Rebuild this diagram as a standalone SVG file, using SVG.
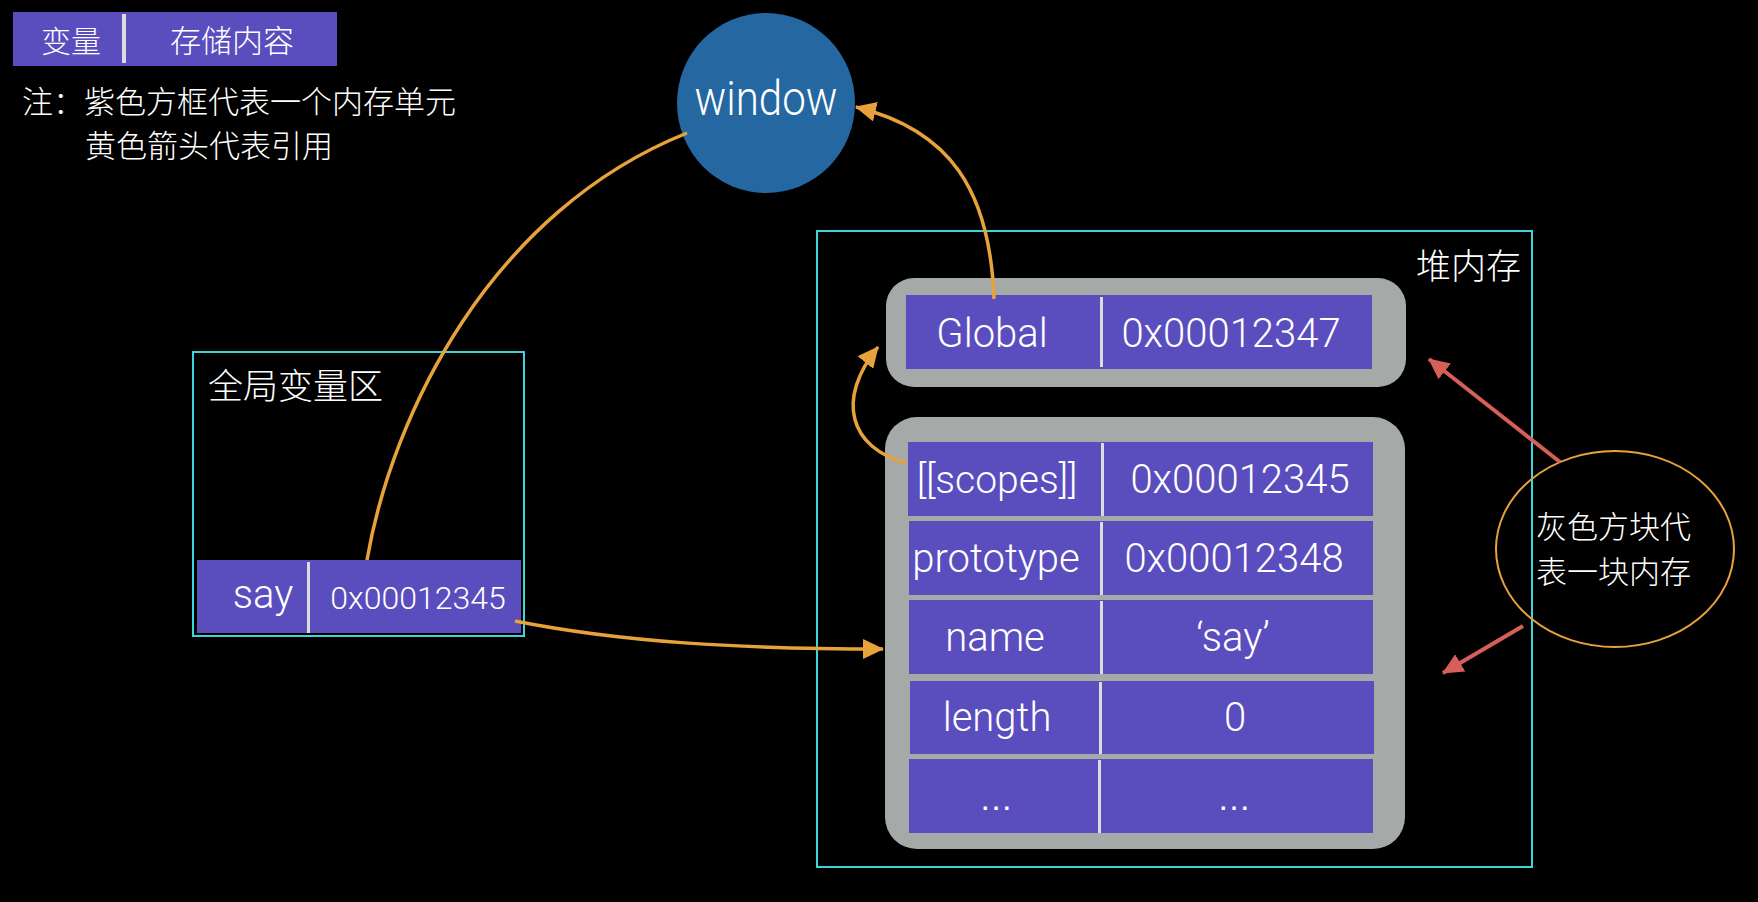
<svg xmlns="http://www.w3.org/2000/svg" width="1758" height="902" viewBox="0 0 1758 902">
<defs>
<style>
.t{font-family:Roboto,"Liberation Sans","Noto Sans CJK SC",sans-serif;font-weight:300;fill:#ffffff}
.c{font-family:"Noto Sans CJK SC","Liberation Sans",sans-serif;font-weight:300;fill:#ffffff}
.e{font-family:"Liberation Sans",sans-serif;fill:#ffffff}
.mid{text-anchor:middle}
.cell{fill:#5a4dbe}
.div{fill:#dcdcdc}
.gray{fill:#a5a9a8}
.zone{fill:none;stroke:#3cd5dc;stroke-width:2}
.ref{fill:none;stroke:#e8a23c;stroke-width:3.5}
.red{fill:none;stroke:#d65f5a;stroke-width:4}
</style>
<marker id="ao" markerUnits="userSpaceOnUse" markerWidth="22" markerHeight="20" refX="20" refY="10" orient="auto"><path d="M0,0 L21,10 L0,20 Z" fill="#e8a23c"/></marker>
<marker id="ar" markerUnits="userSpaceOnUse" markerWidth="22" markerHeight="20" refX="20" refY="10" orient="auto"><path d="M0,0 L21,10 L0,20 Z" fill="#d65f5a"/></marker>
</defs>
<rect width="1758" height="902" fill="#000000"/>

<g id="legend">
<rect x="13" y="12" width="324" height="54" class="cell"/>
<rect x="122" y="14" width="4" height="49" class="div"/>
<text x="71" y="52" class="c mid" font-size="30">变量</text>
<text x="232" y="52" class="c mid" font-size="31">存储内容</text>
<text x="22" y="113" class="c" font-size="31">注：紫色方框代表一个内存单元</text>
<text x="85" y="157" class="c" font-size="31">黄色箭头代表引用</text>
</g>

<g id="window">
<ellipse cx="766" cy="103" rx="89" ry="90" fill="#2467a1"/>
<text x="766" y="115" class="t mid" font-size="48" textLength="143" lengthAdjust="spacingAndGlyphs">window</text>
</g>

<g id="global-zone">
<rect x="193" y="352" width="331" height="284" class="zone"/>
<text x="208" y="399" class="c" font-size="35">全局变量区</text>
</g>

<g id="say-var">
<rect x="197" y="560" width="324" height="73" class="cell"/>
<rect x="307" y="562" width="3" height="71" class="div"/>
<text x="263" y="608" class="t mid" font-size="40">say</text>
<text x="418" y="609" class="t mid" font-size="32">0x00012345</text>
</g>

<g id="heap-zone">
<rect x="817" y="231" width="715" height="636" class="zone"/>
<text x="1416" y="279" class="c" font-size="35">堆内存</text>
</g>

<g id="global-obj">
<rect x="886" y="278" width="520" height="109" rx="28" class="gray"/>
<rect x="906" y="295" width="466" height="74" class="cell"/>
<rect x="1100" y="297" width="3" height="70" class="div"/>
<text x="992" y="347" class="t mid" font-size="40">Global</text>
<text x="1231" y="347" class="t mid" font-size="40">0x00012347</text>
</g>

<g id="function-obj">
<rect x="885" y="417" width="520" height="432" rx="32" class="gray"/>
<rect x="908" y="442" width="465" height="74" class="cell"/>
<rect x="1101" y="443" width="3" height="73" class="div"/>
<text x="997" y="493" class="t mid" font-size="39">[[scopes]]</text>
<text x="1240" y="493" class="t mid" font-size="40">0x00012345</text>
<rect x="909" y="521" width="464" height="74" class="cell"/>
<rect x="1100" y="522" width="3" height="73" class="div"/>
<text x="996" y="572" class="t mid" font-size="40">prototype</text>
<text x="1234" y="572" class="t mid" font-size="40">0x00012348</text>
<rect x="909" y="600" width="464" height="74" class="cell"/>
<rect x="1100" y="601" width="3" height="73" class="div"/>
<text x="995" y="651" class="t mid" font-size="40">name</text>
<text x="1233" y="651" class="t mid" font-size="40">‘say’</text>
<rect x="910" y="681" width="464" height="73" class="cell"/>
<rect x="1099" y="682" width="3" height="72" class="div"/>
<text x="997" y="731" class="t mid" font-size="40">length</text>
<text x="1235" y="731" class="t mid" font-size="40">0</text>
<rect x="909" y="759" width="464" height="74" class="cell"/>
<rect x="1098" y="760" width="3" height="73" class="div"/>
<text x="996" y="810" class="e mid" font-size="34">…</text>
<text x="1234" y="810" class="e mid" font-size="34">…</text>
</g>

<g id="note">
<ellipse cx="1615" cy="549" rx="119" ry="98" fill="none" stroke="#e8a23c" stroke-width="2"/>
<text x="1536" y="538" class="c" font-size="31">灰色方块代</text>
<text x="1536" y="583" class="c" font-size="31">表一块内存</text>
</g>

<g id="connectors">
<path d="M367,560 C392,415 490,212 687,133" class="ref"/>
<path d="M994,299 C990,190 950,130 856,107" class="ref" marker-end="url(#ao)"/>
<path d="M906,463 C850,448 835,400 878,347" class="ref" marker-end="url(#ao)"/>
<path d="M515,621 C620,642 740,649 883,649" class="ref" marker-end="url(#ao)"/>
<path d="M1560,462 L1429,359" class="red" marker-end="url(#ar)"/>
<path d="M1523,626 L1443,673" class="red" marker-end="url(#ar)"/>
</g>
</svg>
